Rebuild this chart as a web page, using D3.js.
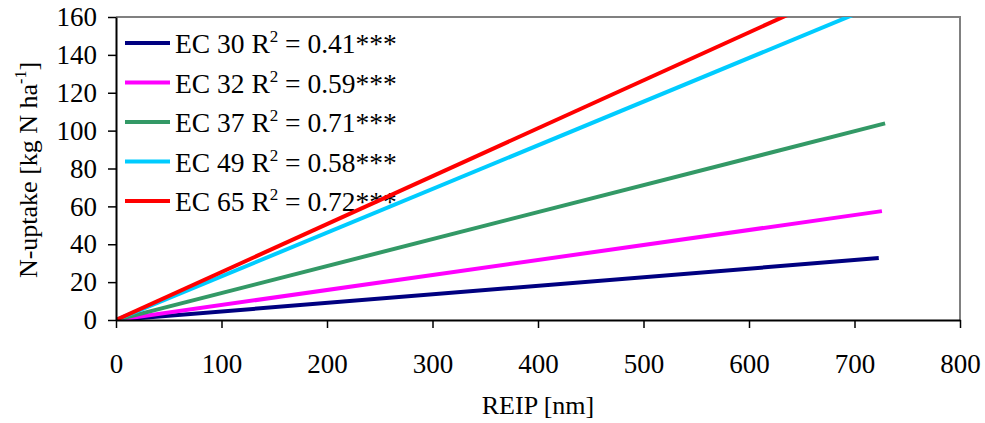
<!DOCTYPE html>
<html>
<head>
<meta charset="utf-8">
<script src="https://cdn.jsdelivr.net/npm/d3@7"></script>
<style>
  body { margin: 0; background: #fff; }
  svg { display: block; }
  text { font-family: "Liberation Serif", "Times New Roman", serif; fill: #000; }
</style>
</head>
<body>
<svg id="chart" width="985" height="423"></svg>
<script>
// series: growth stage, R2 label, colour, end point of the regression line
var stages = ["EC 30", "EC 32", "EC 37", "EC 49", "EC 65"];
var r2 = ["0.41***", "0.59***", "0.71***", "0.58***", "0.72***"];
var colors = ["#000080", "#ff00ff", "#339966", "#00ccff", "#ff0000"];
var xStart = [0, 0, 0, 0, 0];
var yStart = [0, 0, 0, 0, 0];
var xEnd = [723, 726, 729, 725, 725];
var yEnd = [32.7, 57.5, 103.8, 167.2, 183.5];

var xTicks = [0, 100, 200, 300, 400, 500, 600, 700, 800];
var yTicks = [0, 20, 40, 60, 80, 100, 120, 140, 160];

var svg = d3.select("#chart");
var margin = {top: 17, right: 25, bottom: 103, left: 116};
var width = 985 - margin.left - margin.right;
var height = 423 - margin.top - margin.bottom;

var xScale = d3.scaleLinear().domain([0, 800]).range([0, width]);
var yScale = d3.scaleLinear().domain([0, 160]).range([height, 0]);

var g = svg.append("g").attr("transform", "translate(" + margin.left + "," + margin.top + ")");

g.append("clipPath").attr("id", "plotclip")
  .append("rect").attr("x", 0).attr("y", 0).attr("width", width).attr("height", height);

// gray frame (top / right)
g.append("path")
  .attr("d", "M0,0 H" + width + " V" + height)
  .attr("fill", "none")
  .attr("stroke", "#808080")
  .attr("stroke-width", 2);

// legend
var legend = g.append("g").attr("transform", "translate(9,0)");
stages.forEach(function(s, i) {
  var yy = 36 + i * 39.5;
  legend.append("line")
    .attr("x1", 0).attr("x2", 45)
    .attr("y1", yy - 10).attr("y2", yy - 10)
    .attr("stroke", colors[i]).attr("stroke-width", 4);
  var t = legend.append("text")
    .attr("x", 50).attr("y", yy)
    .attr("font-size", "27.5px");
  t.append("tspan").text(s + " R");
  t.append("tspan").attr("font-size", "17px").attr("dy", -11).text("2");
  t.append("tspan").attr("dy", 11).text(" = " + r2[i]);
});

// regression lines
var line = d3.line()
  .x(function(d) { return xScale(d[0]); })
  .y(function(d) { return yScale(d[1]); });

g.append("g").attr("clip-path", "url(#plotclip)")
  .selectAll("path")
  .data(stages)
  .enter()
  .append("path")
  .attr("d", function(d, i) { return line([[xStart[i], yStart[i]], [xEnd[i], yEnd[i]]]); })
  .attr("fill", "none")
  .attr("stroke", function(d, i) { return colors[i]; })
  .attr("stroke-width", 4);

// axes
var xAxis = d3.axisBottom(xScale).tickValues(xTicks).tickSize(8).tickSizeOuter(0);
var yAxis = d3.axisLeft(yScale).tickValues(yTicks).tickSize(8).tickSizeOuter(0).tickPadding(11);

var gx = g.append("g").attr("transform", "translate(0," + height + ")").call(xAxis);
gx.selectAll("text").attr("dy", null).attr("y", 53);

var gy = g.append("g").call(yAxis);

[gx, gy].forEach(function(a) {
  a.attr("font-family", null).attr("font-size", null);
  a.selectAll("text").style("font-size", "27px").style("fill", "#000");
  a.selectAll("line").attr("stroke", "#000").attr("stroke-width", 1.5);
  a.select(".domain").attr("stroke", "#000").attr("stroke-width", 2);
});

// axis titles
svg.append("text")
  .attr("x", margin.left + width / 2)
  .attr("y", 414)
  .attr("text-anchor", "middle")
  .attr("font-size", "26px")
  .text("REIP [nm]");

var yt = svg.append("text")
  .attr("transform", "translate(37," + 170 + ") rotate(-90)")
  .attr("text-anchor", "middle")
  .attr("font-size", "26px");
yt.append("tspan").text("N-uptake [kg N ha");
yt.append("tspan").attr("font-size", "16px").attr("dy", -11).text("-1");
yt.append("tspan").attr("dy", 11).text("]");
</script>
</body>
</html>
